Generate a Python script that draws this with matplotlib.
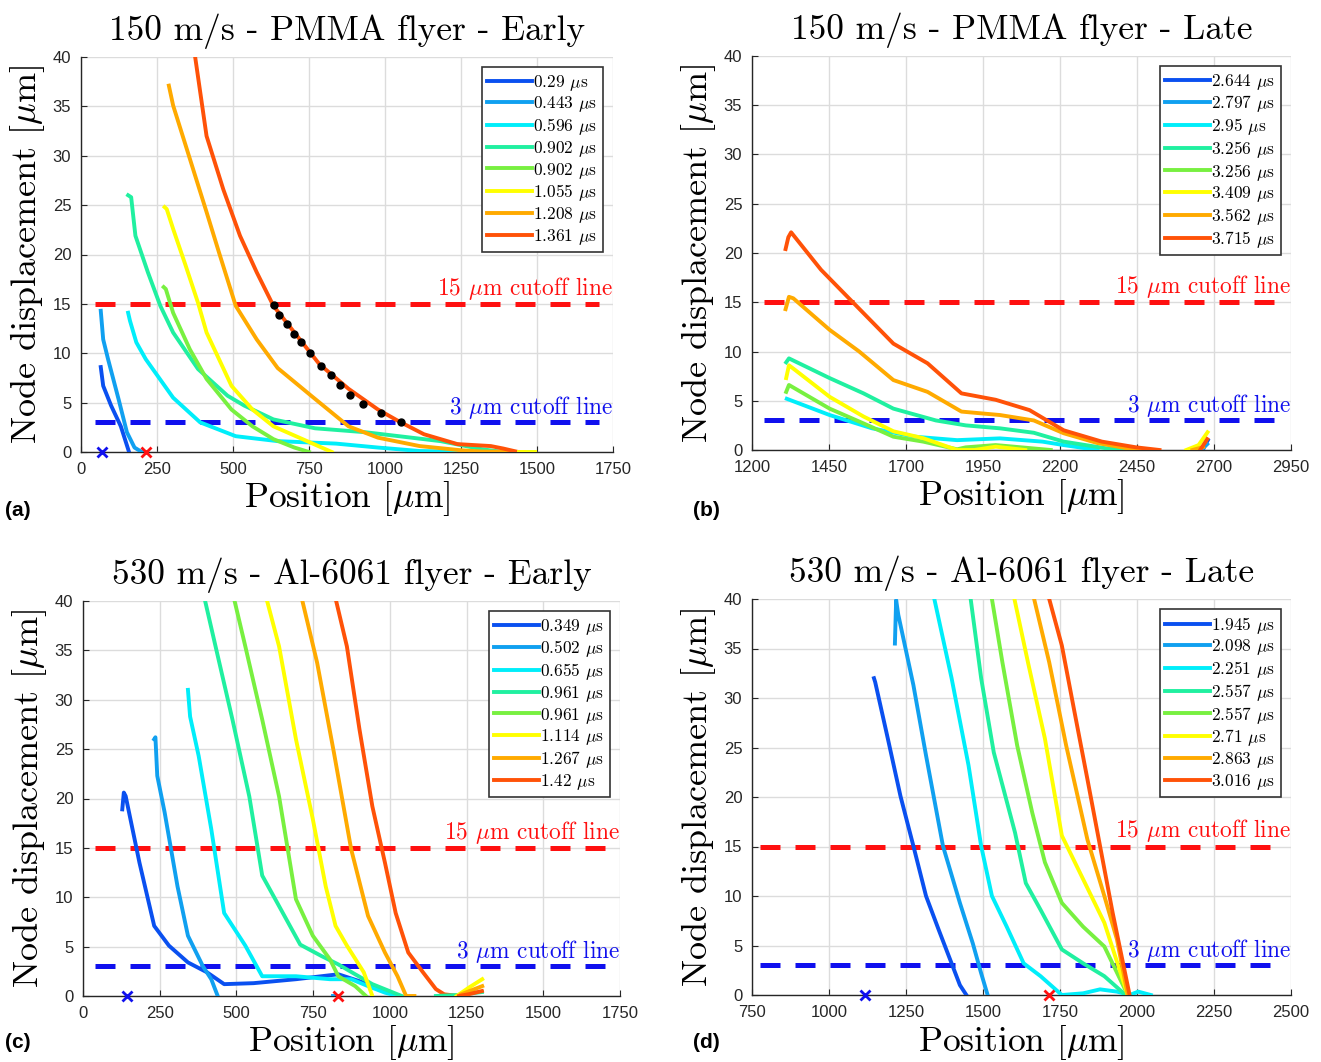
import matplotlib
matplotlib.use("Agg")
import matplotlib.pyplot as plt
import numpy as np

plt.rcParams['mathtext.fontset'] = 'cm'

W, H = 1321, 1062

colors = ['#0a50f0', '#10a0f0', '#00eefa', '#20f0a0', '#78f040', '#ffff00', '#ffaa00', '#ff5208']

# ---------------- panel (a): 150 m/s PMMA early ----------------
a_times = ['0.29', '0.443', '0.596', '0.902', '0.902', '1.055', '1.208', '1.361']
a_x = [
    [65, 73, 99, 131, 158],
    [65, 73, 89, 124, 151, 176, 200],
    [155, 161, 182, 213, 303, 392, 509, 647, 839, 977, 1114, 1300, 1490],
    [155, 165, 179, 220, 261, 303, 385, 482, 537, 633, 770, 936, 1046, 1183, 1321, 1389],
    [272, 279, 303, 358, 413, 495, 564, 633, 702, 750],
    [275, 282, 303, 344, 385, 413, 495, 564, 633, 729, 825],
    [289, 303, 358, 413, 454, 509, 578, 647, 757, 880, 977, 1114, 1252, 1320, 1458],
    [376, 413, 468, 523, 578, 633, 702, 784, 880, 977, 1046, 1128, 1238, 1348, 1389, 1438],
]
a_y = [
    [8.6, 6.7, 4.7, 2.6, 0],
    [14.3, 11.4, 9.4, 5.3, 2.0, 0.45, 0],
    [14.1, 13.3, 11.1, 9.4, 5.5, 3.0, 1.6, 1.1, 0.85, 0.45, 0.1, 0.0, 0.0],
    [26.0, 25.8, 21.9, 18.2, 14.8, 12.1, 8.4, 5.7, 4.7, 3.3, 2.4, 2.0, 1.6, 1.1, 0.27, 0],
    [16.7, 16.5, 14.1, 10.4, 7.4, 4.3, 2.6, 1.3, 0.45, 0],
    [24.8, 24.6, 22.6, 18.9, 15.1, 12.1, 6.7, 4.3, 2.6, 1.3, 0],
    [37.1, 35.1, 29.7, 24.3, 20.2, 14.8, 11.4, 8.5, 5.7, 2.6, 1.45, 0.6, 0.17, 0.05, 0],
    [39.9, 32.0, 26.6, 21.9, 18.2, 14.8, 12.1, 8.9, 6.4, 4.3, 3.1, 1.8, 0.8, 0.6, 0.35, 0],
]
a_extra_x = [[1440, 1495]]
a_extra_y = [[0.05, 0.05]]
a_extra_c = [5]
a_dots_x = [636, 651, 677, 702, 724, 753, 788, 821, 853, 886, 927, 988, 1052]
a_dots_y = [14.9, 13.9, 13.0, 12.0, 11.1, 10.0, 8.75, 7.8, 6.8, 5.8, 4.9, 3.9, 3.0]
a_marks = [70, 215]

# ---------------- panel (b): 150 m/s PMMA late ----------------
b_times = ['2.644', '2.797', '2.95', '3.256', '3.256', '3.409', '3.562', '3.715']
b_x = [
    [2664, 2671, 2680],
    [2640, 2660, 2678],
    [1313, 1452, 1590, 1728, 1866, 2005, 2143, 2212, 2322],
    [1311, 1320, 1452, 1562, 1659, 1797, 1894, 2005, 2115, 2212, 2350, 2447],
    [1311, 1320, 1452, 1562, 1659, 1756, 1866, 1894, 1991, 2074, 2170],
    [1311, 1320, 1341, 1452, 1562, 1659, 1756, 1866, 1922, 1991, 2087],
    [1309, 1320, 1334, 1452, 1548, 1659, 1770, 1880, 2005, 2115, 2212, 2322, 2419, 2488],
    [1309, 1318, 1327, 1424, 1521, 1659, 1770, 1880, 1991, 2101, 2212, 2336, 2447, 2523],
]
b_y = [
    [0, 0.5, 1.0],
    [0, 0.05, 0.6],
    [5.2, 3.55, 2.2, 1.35, 1.0, 1.18, 0.85, 0.5, 0],
    [8.9, 9.3, 7.3, 5.75, 4.2, 3.0, 2.5, 2.2, 1.75, 0.85, 0.17, 0],
    [5.9, 6.6, 4.2, 2.7, 1.35, 0.85, 0.07, 0.27, 0.5, 0.27, 0],
    [7.3, 8.6, 8.1, 5.4, 3.4, 1.9, 1.2, 0, 0, 0.34, 0],
    [14.3, 15.55, 15.4, 12.2, 10.0, 7.1, 5.9, 3.9, 3.55, 3.0, 1.7, 0.7, 0.17, 0],
    [20.4, 21.6, 22.1, 18.3, 15.2, 10.8, 8.8, 5.75, 5.1, 4.05, 2.0, 0.85, 0.27, 0],
]
b_extra_x = [[2610, 2650, 2679], [2630, 2665], [2655, 2678]]
b_extra_y = [[0, 0.5, 1.8], [0, 0.3], [0, 1.1]]
b_extra_c = [5, 6, 7]

# ---------------- panel (c): 530 m/s Al-6061 early ----------------
c_times = ['0.349', '0.502', '0.655', '0.961', '0.961', '1.114', '1.267', '1.42']
c_x = [
    [128, 133, 139, 184, 232, 280, 342, 404, 460, 556, 694, 832, 901, 970, 1025],
    [232, 236, 242, 266, 308, 342, 391, 418, 439],
    [342, 349, 377, 418, 460, 529, 584, 694, 805, 874, 929, 984, 1025],
    [398, 432, 487, 542, 584, 639, 708, 777, 832, 887, 943, 1025, 1039],
    [494, 529, 584, 639, 694, 749, 805, 832, 887, 922],
    [600, 639, 694, 749, 791, 823, 860, 915, 943],
    [715, 763, 818, 874, 929, 984, 1025, 1053, 1080],
    [825, 860, 901, 943, 984, 1019, 1060, 1108, 1150, 1177, 1225],
]
c_y = [
    [18.9, 20.6, 20.25, 13.5, 7.1, 5.1, 3.4, 2.4, 1.2, 1.3, 1.7, 2.2, 1.5, 0.7, 0],
    [26.0, 26.2, 22.3, 18.6, 11.1, 6.1, 3.0, 1.7, 0],
    [31.0, 28.3, 24.3, 16.9, 8.4, 5.1, 2.0, 2.0, 1.7, 1.7, 1.0, 0.34, 0],
    [40, 35.4, 28.0, 20.2, 12.2, 9.1, 5.2, 4.05, 3.2, 2.2, 1.2, 0.17, 0],
    [40, 35.4, 28.0, 20.2, 9.8, 6.1, 3.7, 2.0, 1.0, 0],
    [40, 35.4, 26.0, 17.9, 11.1, 7.1, 5.1, 2.4, 0],
    [40, 33.75, 24.6, 14.85, 8.1, 4.4, 2.0, 0, 0],
    [40, 35.4, 27.0, 19.2, 13.5, 8.4, 4.4, 2.4, 0.7, 0.17, 0],
]
c_extra_x = [[1150, 1220, 1300], [1218, 1260, 1301], [1232, 1301], [1225, 1260, 1300], [815, 822]]
c_extra_y = [[0, 0.1, 0.4], [0, 0.9, 1.7], [0.17, 1.0], [0, 0.2, 0.5], [0, 0]]
c_extra_c = [3, 5, 6, 7, 1]
c_marks = [142, 832]

# ---------------- panel (d): 530 m/s Al-6061 late ----------------
d_times = ['1.945', '2.098', '2.251', '2.557', '2.557', '2.71', '2.863', '3.016']
d_x = [
    [1146, 1150, 1191, 1232, 1274, 1315, 1356, 1398, 1425, 1446],
    [1214, 1218, 1225, 1274, 1315, 1370, 1425, 1467, 1494, 1515],
    [1342, 1398, 1453, 1494, 1529, 1577, 1632, 1687, 1756, 1825, 1880, 1935, 1976, 2004, 2045],
    [1460, 1494, 1535, 1604, 1639, 1687, 1756, 1825, 1894, 1963],
    [1529, 1563, 1611, 1660, 1701, 1756, 1825, 1894, 1970],
    [1602, 1646, 1701, 1756, 1825, 1894, 1970],
    [1666, 1715, 1770, 1839, 1894, 1935, 1970],
    [1715, 1756, 1797, 1839, 1880, 1921, 1976],
]
d_y = [
    [32.0, 31.6, 25.9, 20.1, 15.05, 10.0, 6.6, 3.2, 1.0, 0],
    [35.5, 39.9, 38.4, 31.3, 24.2, 15.05, 9.3, 5.2, 2.2, 0],
    [40, 32.0, 23.2, 15.05, 10.0, 6.9, 3.2, 1.9, 0, 0.17, 0.57, 0.34, 0, 0.34, 0],
    [40, 32.0, 24.5, 16.4, 11.3, 8.6, 4.6, 3.2, 1.9, 0],
    [40, 33.6, 25.2, 18.4, 13.4, 9.3, 6.9, 4.9, 0],
    [40, 33.6, 25.9, 16.1, 11.7, 7.3, 0],
    [40, 33.6, 25.2, 15.7, 10.0, 5.6, 0],
    [40, 35.3, 28.6, 21.8, 15.05, 8.3, 0],
]
d_marks = [1118, 1715]

panels = [
    dict(rect=(81, 57, 613, 452), title='150 m/s - PMMA flyer - Early', xlim=(0, 1750),
         xticks=np.arange(0, 1751, 250), times=a_times, xs=a_x, ys=a_y,
         ex=a_extra_x, ey=a_extra_y, ec=a_extra_c, marks=a_marks, cut=(45, 1705), tag='(a)'),
    dict(rect=(752, 56, 1291, 450), title='150 m/s - PMMA flyer - Late', xlim=(1200, 2950),
         xticks=np.arange(1200, 2951, 250), times=b_times, xs=b_x, ys=b_y,
         ex=b_extra_x, ey=b_extra_y, ec=b_extra_c, marks=None, cut=(1240, 2900), tag='(b)'),
    dict(rect=(83, 601, 620, 996), title='530 m/s - Al-6061 flyer - Early', xlim=(0, 1750),
         xticks=np.arange(0, 1751, 250), times=c_times, xs=c_x, ys=c_y,
         ex=c_extra_x, ey=c_extra_y, ec=c_extra_c, marks=c_marks, cut=(40, 1700), tag='(c)'),
    dict(rect=(752, 599, 1291, 995), title='530 m/s - Al-6061 flyer - Late', xlim=(750, 2500),
         xticks=np.arange(750, 2501, 250), times=d_times, xs=d_x, ys=d_y,
         ex=[], ey=[], ec=[], marks=d_marks, cut=(775, 2450), tag='(d)'),
]

fig = plt.figure(figsize=(W / 100, H / 100), dpi=100)

for p in panels:
    x0, y0, x1, y1 = p['rect']
    ax = fig.add_axes([x0 / W, 1 - y1 / H, (x1 - x0) / W, (y1 - y0) / H])
    ax.set_xlim(*p['xlim'])
    ax.set_ylim(0, 40)
    ax.set_xticks(p['xticks'])
    ax.set_yticks(np.arange(0, 41, 5))
    ax.grid(True, color='#dcdcdc', lw=1.0)
    ax.set_axisbelow(True)
    for s in ['top', 'right']:
        ax.spines[s].set_visible(False)
    for s in ['left', 'bottom']:
        ax.spines[s].set_color('#262626')
        ax.spines[s].set_linewidth(1.0)
    ax.tick_params(direction='in', length=4, colors='#262626', labelsize=12)
    ax.tick_params(axis='x', pad=7)
    ax.tick_params(axis='y', pad=7)
    for lab in ax.get_xticklabels() + ax.get_yticklabels():
        lab.set_family('Liberation Sans')

    handles = []
    for i, t in enumerate(p['times']):
        h, = ax.plot(p['xs'][i], p['ys'][i], color=colors[i], lw=2.8,
                     label=t + r' $\mu$s', solid_joinstyle='round', zorder=3)
        handles.append(h)
    for ex, ey, ci in zip(p['ex'], p['ey'], p['ec']):
        ax.plot(ex, ey, color=colors[ci], lw=2.8, zorder=3)

    c0, c1 = p['cut']
    ax.plot([c0, c1], [15, 15], color='#ff1010', lw=3.6, dashes=(4, 3), zorder=2)
    ax.plot([c0, c1], [3, 3], color='#1010ee', lw=3.6, dashes=(4, 3), zorder=2)
    ax.text(p['xlim'][1], 16.6, r'15 $\mu$m cutoff line', color='#ff1010', ha='right',
            va='center', fontsize=16.8, family='cmr10')
    ax.text(p['xlim'][1], 4.5, r'3 $\mu$m cutoff line', color='#1010ee', ha='right',
            va='center', fontsize=16.8, family='cmr10')

    if p['marks'] is not None:
        ax.plot([p['marks'][0]], [0], 'x', color='#1010ee', ms=7, mew=2, clip_on=False, zorder=4)
        ax.plot([p['marks'][1]], [0], 'x', color='#ff1010', ms=7, mew=2, clip_on=False, zorder=4)
    if p['tag'] == '(a)':
        ax.plot(a_dots_x, a_dots_y, 'o', color='black', ms=5, zorder=5)

    ax.set_title(p['title'], family='cmr10', fontsize=25.5, pad=12)
    ax.set_xlabel(r'Position [$\mu$m]', family='cmr10', fontsize=25.5, labelpad=2)
    ax.set_ylabel(r'Node displacement [$\mu$m]', family='cmr10', fontsize=26, labelpad=4)

    leg = ax.legend(handles=handles, loc='upper right', handlelength=2.6,
                    handletextpad=0.05, labelspacing=0.1, borderpad=0.3,
                    borderaxespad=0.6, fancybox=False, framealpha=1,
                    prop={'family': 'cmr10', 'size': 12.5})
    leg.get_frame().set_edgecolor('#333333')
    leg.get_frame().set_linewidth(1.2)

    fig.text((5 if p['tag'] in ('(a)', '(c)') else 693) / W,
             1 - (510 if p['tag'] in ('(a)', '(b)') else 1042) / H,
             p['tag'], fontsize=15, fontweight='bold', family='Liberation Sans',
             ha='left', va='center')

fig.savefig('out.png', dpi=100)
